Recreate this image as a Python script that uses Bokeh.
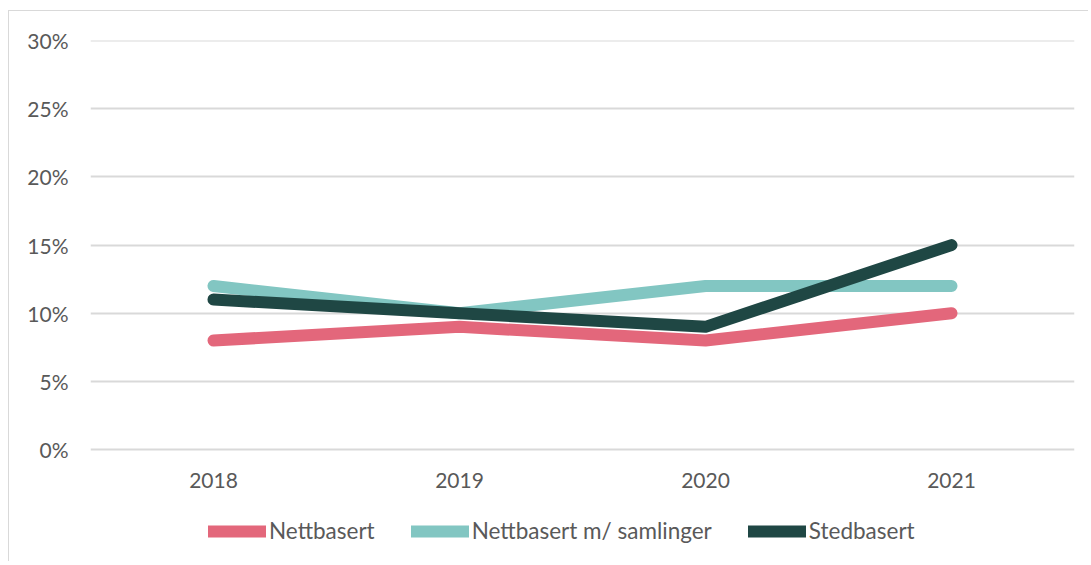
from bokeh.plotting import figure
from bokeh.models import Range1d, FixedTicker, NumeralTickFormatter, Legend, LegendItem
from bokeh.embed import file_html
from bokeh.resources import INLINE

years = ["2018", "2019", "2020", "2021"]
nettbasert = [0.08, 0.09, 0.08, 0.10]
nettbasert_samlinger = [0.12, 0.10, 0.12, 0.12]
stedbasert = [0.11, 0.10, 0.09, 0.15]
series_names = ["Nettbasert", "Nettbasert m/ samlinger", "Stedbasert"]
y_ticks = [0.0, 0.05, 0.10, 0.15, 0.20, 0.25, 0.30]
colors = ["#E3677B", "#82C6C2", "#1F4744"]

FONT = "Lato"
TXT = "#595959"

# frame extends below 0 so the legend can live inside it (side-panel legends misbehave)
p = figure(x_range=years, y_range=Range1d(-0.0829, 0.3001), width=1080, height=551,
           output_backend="svg", toolbar_location=None,
           min_border_left=81, min_border_right=15, min_border_top=29, min_border_bottom=0)
p.styles = {"border-left": "1px solid #d9d9d9", "border-top": "1px solid #d9d9d9",
            "margin-left": "8px", "margin-top": "10px"}
p.outline_line_color = None
p.background_fill_color = "white"
p.border_fill_color = "white"

renderers = []
for name, vals, c in zip(series_names, [nettbasert, nettbasert_samlinger, stedbasert], colors):
    r = p.line(years, vals, line_color=c, line_width=12, line_cap="round", line_join="round")
    renderers.append((name, r))

p.yaxis.ticker = FixedTicker(ticks=y_ticks)
p.yaxis.formatter = NumeralTickFormatter(format="0%")
p.xaxis.fixed_location = 0
for ax in (p.xaxis[0], p.yaxis[0]):
    ax.axis_line_color = None
    ax.major_tick_line_color = None
    ax.minor_tick_line_color = None
    ax.major_tick_out = 0
    ax.major_tick_in = 0
    ax.major_label_text_font = FONT
    ax.major_label_text_font_size = "21px"
    ax.major_label_text_color = TXT
p.yaxis.major_label_standoff = 22
p.xaxis.major_label_standoff = 23

p.xgrid.grid_line_color = None
p.ygrid.grid_line_color = "#d9d9d9"
p.ygrid.grid_line_width = 2

legend = Legend(items=[LegendItem(label=n, renderers=[r]) for n, r in renderers],
                orientation="horizontal", location=(118, 18))
legend.border_line_color = None
legend.background_fill_alpha = 0
legend.glyph_width = 58
legend.glyph_height = 20
legend.label_standoff = 3
legend.spacing = 36
legend.padding = 0
legend.margin = 0
legend.label_text_font = FONT
legend.label_text_font_size = "22.5px"
legend.label_text_color = TXT
p.add_layout(legend)

open("out.html", "w").write(file_html(p, INLINE))
